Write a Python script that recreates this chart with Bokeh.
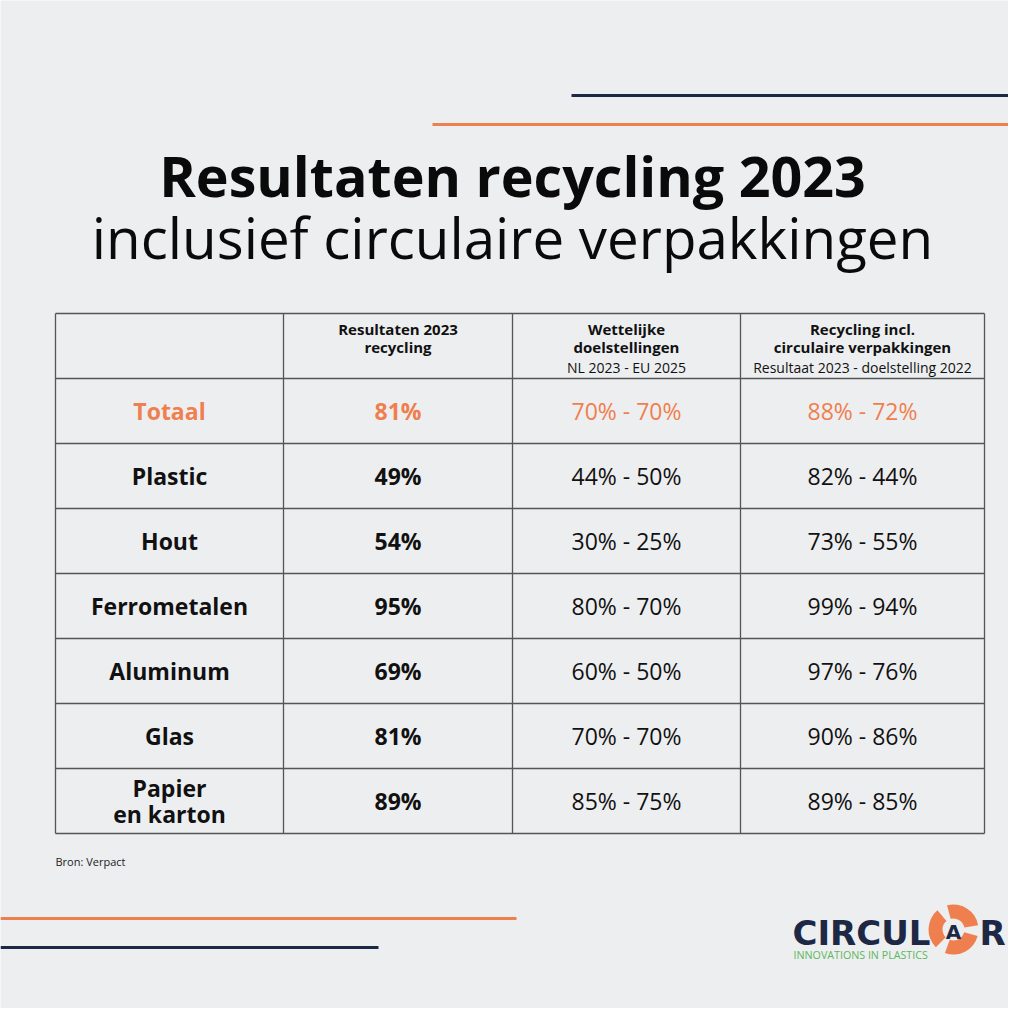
from bokeh.plotting import figure
from bokeh.models import ColumnDataSource, Range1d
from bokeh.core.properties import value
from bokeh.embed import file_html
from bokeh.resources import INLINE
import numpy as np

# ---- data ----
categories = ["Totaal", "Plastic", "Hout", "Ferrometalen", "Aluminum", "Glas", "Papier\nen karton"]
results_2023 = [81, 49, 54, 95, 69, 81, 89]
nl_2023 = [70, 44, 30, 80, 60, 70, 85]
eu_2025 = [70, 50, 25, 70, 50, 70, 75]
circ_result_2023 = [88, 82, 73, 99, 97, 90, 89]
circ_target_2022 = [72, 44, 55, 94, 76, 86, 85]
headers = ["", "Resultaten 2023\nrecycling", "Wettelijke\ndoelstellingen", "Recycling incl.\ncirculaire verpakkingen"]
subheaders = ["", "", "NL 2023 - EU 2025", "Resultaat 2023 - doelstelling 2022"]

BG = "#EDEEF0"
ORANGE = "#EF7F4E"
NAVY = "#1D2844"
GREEN = "#5CB85C"
FONT = "Open Sans"

p = figure(width=1008, height=1008, output_backend="svg", toolbar_location=None,
           x_range=Range1d(0, 1008), y_range=Range1d(1008, 0), min_border=0)
p.axis.visible = False
p.grid.visible = False
p.outline_line_color = None
p.background_fill_color = BG
p.border_fill_color = BG

# decorative lines
p.segment(x0=[571, 432, 0, 0], y0=[95, 124, 918, 947], x1=[1024, 1024, 516, 378], y1=[95, 124, 918, 947],
          line_color=[NAVY, ORANGE, ORANGE, NAVY], line_width=3)

# title
p.text(x=[512], y=[175], text=["Resultaten recycling 2023"], text_font=value(FONT), text_font_style="bold",
       text_font_size="55.6px", text_align="center", text_baseline="middle", text_color="#0A0A0A")
p.text(x=[512], y=[237], text=["inclusief circulaire verpakkingen"], text_font=value(FONT),
       text_font_size="56.5px", text_align="center", text_baseline="middle", text_color="#0A0A0A")

# table grid
col_edges = [55, 283, 512, 740, 984]
row_edges = [313, 378, 443, 508, 573, 638, 703, 768, 833]
p.segment(x0=[col_edges[0]] * len(row_edges), x1=[col_edges[-1]] * len(row_edges), y0=row_edges, y1=row_edges,
          line_color="#555555", line_width=1.3)
p.segment(x0=col_edges, x1=col_edges, y0=[row_edges[0]] * len(col_edges), y1=[row_edges[-1]] * len(col_edges),
          line_color="#555555", line_width=1.3)

col_centers = [(col_edges[i] + col_edges[i + 1]) / 2 for i in range(4)]
row_centers = [(row_edges[i] + row_edges[i + 1]) / 2 for i in range(1, len(row_edges) - 1)]

# headers
p.text(x=col_centers, y=[row_edges[0] + 24] * 4, text=headers, text_font=value(FONT), text_font_style="bold",
       text_font_size="15px", text_align="center", text_baseline="middle", text_color="#111111",
       text_line_height=0.9)
p.text(x=col_centers, y=[row_edges[0] + 54] * 4, text=subheaders, text_font=value(FONT),
       text_font_size="14px", text_align="center", text_baseline="middle", text_color="#111111")

colors = [ORANGE] + ["#111111"] * (len(categories) - 1)
src = ColumnDataSource(dict(
    y=row_centers,
    cat=categories,
    res=[f"{v}%" for v in results_2023],
    wet=[f"{a}% - {b}%" for a, b in zip(nl_2023, eu_2025)],
    circ=[f"{a}% - {b}%" for a, b in zip(circ_result_2023, circ_target_2022)],
    color=colors,
))
p.text(x=col_centers[0], y="y", text="cat", source=src, text_font=value(FONT), text_font_style="bold",
       text_font_size="23px", text_align="center", text_baseline="middle", text_color="color",
       text_line_height=0.82)
p.text(x=col_centers[1], y="y", text="res", source=src, text_font=value(FONT), text_font_style="bold",
       text_font_size="23px", text_align="center", text_baseline="middle", text_color="color")
p.text(x=col_centers[2], y="y", text="wet", source=src, text_font=value(FONT),
       text_font_size="23px", text_align="center", text_baseline="middle", text_color="color")
p.text(x=col_centers[3], y="y", text="circ", source=src, text_font=value(FONT),
       text_font_size="23px", text_align="center", text_baseline="middle", text_color="color")

# source
p.text(x=[55], y=[861], text=["Bron: Verpact"], text_font=value(FONT), text_font_size="11px",
       text_align="left", text_baseline="middle", text_color="#222222")

# logo
p.text(x=[792], y=[932], text=["CIRCUL"], text_font=value("DejaVu Sans"), text_font_style="bold",
       text_font_size="34px", text_align="left", text_baseline="middle", text_color=NAVY)
cx, cy = 953, 929
p.annular_wedge(x=[cx] * 3, y=[cy] * 3, inner_radius=11, outer_radius=25,
                start_angle=np.deg2rad([10, 130, 250]), end_angle=np.deg2rad([105, 225, 345]),
                fill_color=ORANGE, line_color=None)
p.text(x=[cx], y=[cy + 2], text=["A"], text_font=value("DejaVu Sans"), text_font_style="bold",
       text_font_size="20px", text_align="center", text_baseline="middle", text_color=NAVY)
p.text(x=[979], y=[932], text=["R"], text_font=value("DejaVu Sans"), text_font_style="bold",
       text_font_size="34px", text_align="left", text_baseline="middle", text_color=NAVY)
p.text(x=[793], y=[954], text=["INNOVATIONS IN PLASTICS"], text_font=value(FONT),
       text_font_size="10.7px", text_align="left", text_baseline="middle", text_color=GREEN)

open("out.html", "w").write(file_html(p, INLINE))
